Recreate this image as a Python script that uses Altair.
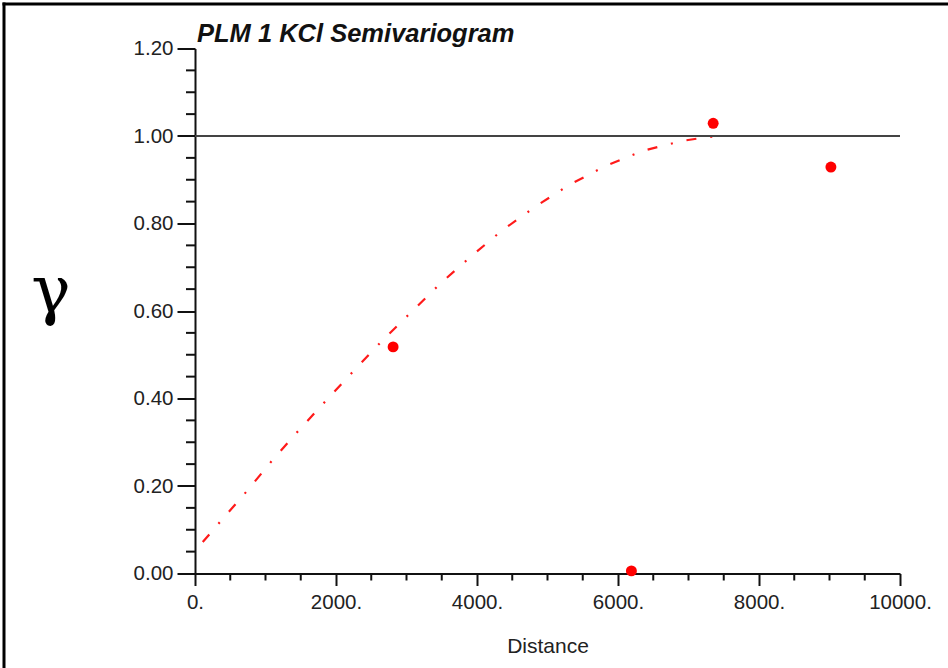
import altair as alt
import pandas as pd

# ---- data ----
title_text = "PLM 1 KCl Semivariogram"
x_title = "Distance"
y_symbol = "γ"

obs_dist = [2810, 6190, 7350, 9020]
obs_gamma = [0.518, 0.006, 1.029, 0.929]

model_dist = [110, 345, 723, 1088, 1466, 1858, 2255, 2648, 3064, 3475, 3910,
              4347, 4823, 5305, 5816, 6350, 6915, 7206, 7400, 10000]
model_gamma = [0.072, 0.116, 0.186, 0.257, 0.326, 0.395, 0.464, 0.531, 0.597,
               0.662, 0.724, 0.783, 0.838, 0.888, 0.931, 0.966, 0.989, 0.996,
               1.0, 1.0]

sill = 1.0
x_major = [0, 2000, 4000, 6000, 8000, 10000]
x_minor = [500, 1000, 1500, 2500, 3000, 3500, 4500, 5000, 5500, 6500, 7000,
           7500, 8500, 9000, 9500]
y_major = [0.0, 0.2, 0.4, 0.6, 0.8, 1.0, 1.2]
y_minor = [0.05, 0.10, 0.15, 0.25, 0.30, 0.35, 0.45, 0.50, 0.55, 0.65, 0.70,
           0.75, 0.85, 0.90, 0.95, 1.05, 1.10, 1.15]

W, H = 705, 525
FONT = "Liberation Sans"

obs = pd.DataFrame({"dist": obs_dist, "gamma": obs_gamma})
model = pd.DataFrame({"dist": model_dist, "gamma": model_gamma,
                      "order": list(range(len(model_dist)))})
sill_df = pd.DataFrame({"x0": [x_major[0]], "x1": [x_major[-1]], "g": [sill]})
xminor_df = pd.DataFrame({"v": x_minor})
yminor_df = pd.DataFrame({"v": y_minor})
one = pd.DataFrame({"t": [title_text], "s": [y_symbol]})

xscale = alt.Scale(domain=[0, 10000], nice=False, zero=False)
yscale = alt.Scale(domain=[0, 1.2], nice=False, zero=False)

xaxis = alt.Axis(values=x_major, labelExpr="datum.value + '.'", tickSize=12,
                 tickWidth=2, tickColor="#111", domainColor="#111", domainWidth=2,
                 labelFont=FONT, labelFontSize=20.5, labelColor="#222",
                 labelPadding=7, grid=False, title=x_title, titleFont=FONT,
                 titleFontSize=21, titleFontWeight="normal", titleColor="#222",
                 titlePadding=22, labelFlush=False)
yaxis = alt.Axis(values=y_major, format=".2f", tickSize=18, tickWidth=2,
                 tickColor="#111", domainColor="#111", domainWidth=2,
                 labelFont=FONT, labelFontSize=20.5, labelColor="#222",
                 labelPadding=4, grid=False, title=None, labelFlush=False)

sill_rule = alt.Chart(sill_df).mark_rule(color="#444", strokeWidth=2).encode(
    x=alt.X("x0:Q", scale=xscale, axis=xaxis),
    x2="x1:Q",
    y=alt.Y("g:Q", scale=yscale, axis=yaxis),
)

curve = alt.Chart(model).mark_line(color="#ff1a1a", strokeWidth=2.2,
                                   strokeDash=[10, 14, 2, 14]).encode(
    x=alt.X("dist:Q", scale=xscale),
    y=alt.Y("gamma:Q", scale=yscale),
    order="order:Q",
)

points = alt.Chart(obs).mark_circle(color="#ff0000", opacity=1, size=120).encode(
    x=alt.X("dist:Q", scale=xscale),
    y=alt.Y("gamma:Q", scale=yscale),
)

x_minor_ticks = alt.Chart(xminor_df).mark_rule(color="#111", strokeWidth=2).encode(
    x=alt.X("v:Q", scale=xscale),
    y=alt.value(H),
    y2=alt.value(H + 7),
)

y_minor_ticks = alt.Chart(yminor_df).mark_rule(color="#111", strokeWidth=2).encode(
    y=alt.Y("v:Q", scale=yscale),
    x=alt.value(-9),
    x2=alt.value(0),
)

title = alt.Chart(one).mark_text(font=FONT, fontSize=25.5, fontWeight="bold",
                                 fontStyle="italic", align="left",
                                 baseline="alphabetic", color="#111").encode(
    x=alt.value(2), y=alt.value(-7), text="t:N")

gamma_sym = alt.Chart(one).mark_text(font="DejaVu Serif", fontSize=66,
                                     align="center", baseline="alphabetic",
                                     color="#000").encode(
    x=alt.value(-144), y=alt.value(263), text="s:N")

frame_left = alt.Chart(one).mark_rule(color="#000", strokeWidth=3).encode(
    x=alt.value(-191), y=alt.value(-46), y2=alt.value(625))
frame_top = alt.Chart(one).mark_rule(color="#000", strokeWidth=3).encode(
    x=alt.value(-192.5), x2=alt.value(760), y=alt.value(-44.5))

chart = alt.layer(
    curve, sill_rule, x_minor_ticks, y_minor_ticks, points, title, gamma_sym,
    frame_left, frame_top,
).properties(
    width=W, height=H,
    autosize=alt.AutoSizeParams(type="none"),
    padding={"left": 195, "top": 48.5, "right": 48, "bottom": 94.5},
    background="white",
).configure_view(stroke=None)

chart.save("out.html", embed_options={"renderer": "svg", "actions": False})
